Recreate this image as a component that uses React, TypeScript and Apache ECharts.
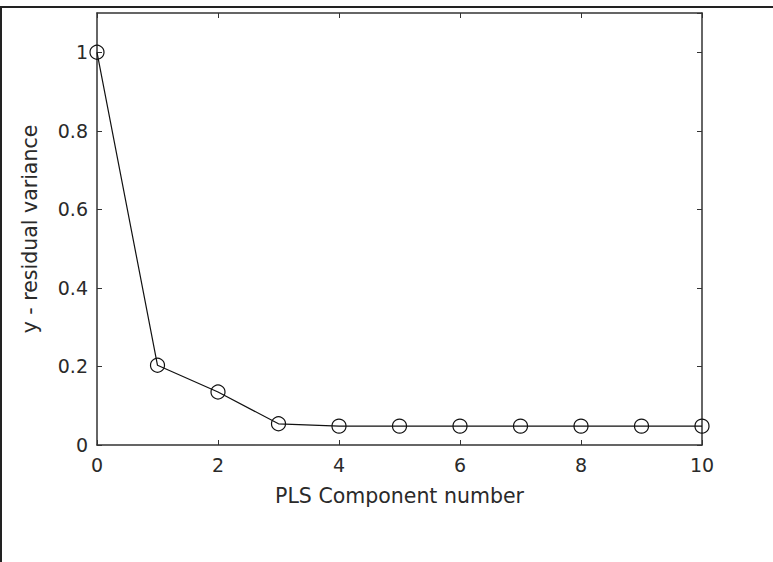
import React, { useEffect, useRef } from "react";
import * as echarts from "echarts";

const components = [0, 1, 2, 3, 4, 5, 6, 7, 8, 9, 10];
const residualVariance = [1.0, 0.203, 0.135, 0.054, 0.048, 0.048, 0.048, 0.048, 0.048, 0.048, 0.048];
const xTitle = "PLS Component number";
const yTitle = "y - residual variance";

export default function App() {
  const ref = useRef<HTMLDivElement>(null);
  useEffect(() => {
    document.body.style.margin = "0";
    const chart = echarts.init(ref.current!, null, { renderer: "svg" });
    const font = "'DejaVu Sans', sans-serif";
    const fs = 19;
    const nfs = 20.5;
    const txt = "#2a2a2a";
    const lineColor = "#333";
    const fmtY = (v: number) =>
      Math.abs(v * 5 - Math.round(v * 5)) < 1e-6 ? String(+v.toFixed(1)) : "";
    const axisLine = { onZero: false, lineStyle: { color: lineColor, width: 1.5 } };
    const axisTick = { inside: true, length: 5, lineStyle: { color: lineColor } };
    chart.setOption({
      animation: false,
      backgroundColor: "#fff",
      grid: { left: 97, right: 71, top: 13, bottom: 117 },
      xAxis: [
        {
          type: "value",
          min: 0,
          max: 10,
          interval: 2,
          position: "bottom",
          name: xTitle,
          nameLocation: "middle",
          nameGap: 40,
          nameTextStyle: { fontFamily: font, fontSize: nfs, color: txt },
          axisLine,
          axisTick,
          axisLabel: { fontFamily: font, fontSize: fs, color: txt, margin: 10 },
          splitLine: { show: false },
        },
        {
          type: "value",
          min: 0,
          max: 10,
          interval: 2,
          position: "top",
          axisLine,
          axisTick,
          axisLabel: { show: false },
          splitLine: { show: false },
        },
      ],
      yAxis: [
        {
          type: "value",
          min: 0,
          max: 1.1,
          interval: 0.2,
          position: "left",
          name: yTitle,
          nameLocation: "middle",
          nameGap: 57,
          nameTextStyle: { fontFamily: font, fontSize: nfs, color: txt },
          axisLine,
          axisTick,
          axisLabel: { fontFamily: font, fontSize: fs, color: txt, margin: 9, formatter: fmtY, showMaxLabel: false },
          splitLine: { show: false },
        },
        {
          type: "value",
          min: 0,
          max: 1.1,
          interval: 0.2,
          position: "right",
          axisLine,
          axisTick,
          axisLabel: { show: false },
          splitLine: { show: false },
        },
      ],
      graphic: [
        { type: "line", shape: { x1: 0, y1: 7, x2: 773, y2: 7 }, style: { stroke: "#222", lineWidth: 2 } },
        { type: "line", shape: { x1: 1, y1: 7, x2: 1, y2: 562 }, style: { stroke: "#222", lineWidth: 2 } },
      ],
      series: [
        {
          type: "line",
          data: components.map((c, i) => [c, residualVariance[i]]),
          symbol: "circle",
          symbolSize: 14,
          itemStyle: { color: "transparent", borderColor: "#111", borderWidth: 1.2 },
          lineStyle: { color: "#111", width: 1.2 },
          clip: false,
        },
      ],
    });
    return () => chart.dispose();
  }, []);
  return <div ref={ref} style={{ position: "fixed", left: 0, top: 0, width: 773, height: 562 }} />;
}
